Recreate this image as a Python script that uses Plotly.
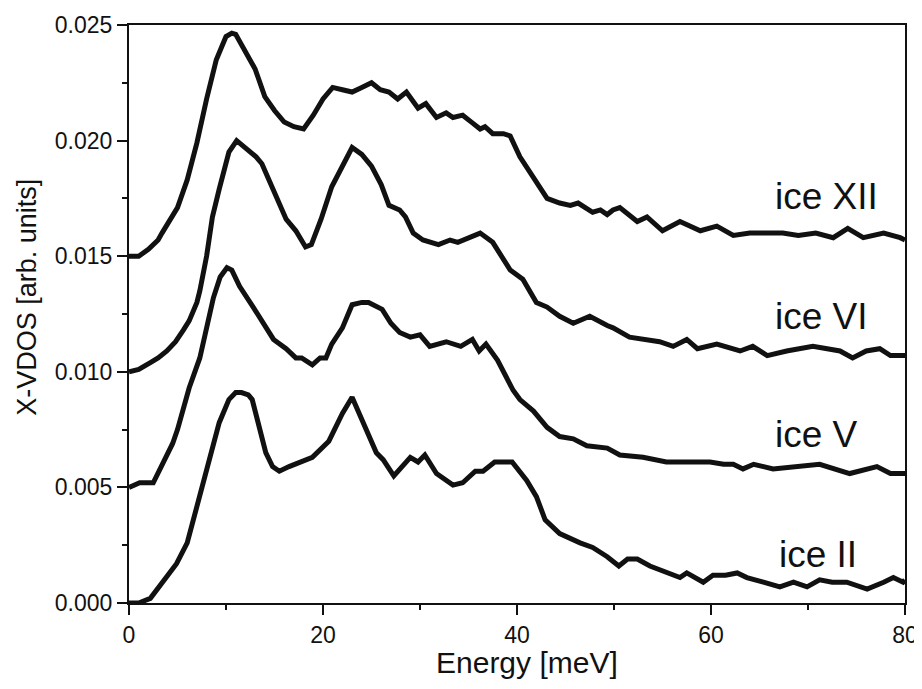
import plotly.graph_objects as go

# ---- data ----
energy_xii = [0, 1, 2, 3, 3.4, 4, 5, 6, 7, 8, 9, 10, 10.6, 11, 12, 13, 14, 15, 16, 17, 18, 19, 20,
              21, 22, 23, 24, 25, 25.9, 26.8, 27.7, 28.6, 29.8, 30.6, 31.7, 32.7, 33.4, 34.4, 35.3,
              36.2, 36.7, 37.5, 38.6, 39.3, 40.3, 41.7, 43.1, 44.4, 45.5, 46.3, 47.8, 48.6, 49.3,
              49.9, 50.6, 52.4, 53.4, 55.0, 56.8, 58.9, 60.6, 62.3, 64.0, 65.8, 67.4, 69.0, 70.8,
              72.6, 74.1, 75.7, 77.8, 79.5, 80]
vdos_xii = [0.0150, 0.0150, 0.0153, 0.0157, 0.0160, 0.0164, 0.0171, 0.0183, 0.0199, 0.0218, 0.0235,
            0.0245, 0.02465, 0.0246, 0.0239, 0.0231, 0.0219, 0.0213, 0.0208, 0.0206, 0.0205, 0.0211,
            0.0218, 0.0223, 0.0222, 0.0221, 0.0223, 0.0225, 0.0222, 0.0221, 0.0218, 0.0221, 0.0214,
            0.0216, 0.0210, 0.0212, 0.0210, 0.0211, 0.0208, 0.0205, 0.0206, 0.0203, 0.0203, 0.0202,
            0.0193, 0.0184, 0.0175, 0.0173, 0.0172, 0.0173, 0.0169, 0.0170, 0.0168, 0.0170, 0.0171,
            0.0165, 0.0167, 0.0161, 0.0165, 0.0161, 0.0163, 0.0159, 0.0160, 0.0160, 0.0160, 0.0159,
            0.0160, 0.0158, 0.0162, 0.0158, 0.0160, 0.0158, 0.0157]

energy_vi = [0, 1, 2.2, 3.0, 3.9, 4.8, 5.6, 6.2, 7.0, 7.3, 8.0, 8.6, 9.3, 10.3, 11.1, 12.0, 13.1, 13.7,
             15.2, 16.2, 17.2, 18.2, 18.8, 19.8, 20.9, 22.0, 23.0, 24.0, 25.0, 26.0, 26.8, 27.9, 28.5,
             29.3, 30.3, 31.9, 33.1, 33.9, 35.0, 36.2, 37.5, 39.3, 40.6, 42.0, 43.1, 44.4, 45.8, 47.5,
             49.3, 49.9, 51.6, 53.0, 54.7, 56.1, 57.5, 58.6, 60.6, 63.0, 64.3, 65.8, 67.8, 70.5, 73.3,
             74.6, 76.0, 77.4, 78.5, 80]
vdos_vi = [0.0100, 0.0101, 0.0104, 0.0106, 0.0109, 0.0113, 0.0118, 0.0122, 0.0130, 0.0135, 0.0150,
           0.0167, 0.0179, 0.0195, 0.0200, 0.0197, 0.0193, 0.0190, 0.0176, 0.0166, 0.0161, 0.0154,
           0.0155, 0.0166, 0.0180, 0.0189, 0.0197, 0.0194, 0.0189, 0.0181, 0.0172, 0.0170, 0.0167,
           0.0160, 0.0157, 0.0155, 0.0157, 0.0156, 0.0158, 0.0160, 0.0156, 0.0144, 0.0140, 0.0130,
           0.0128, 0.0124, 0.0121, 0.0124, 0.0120, 0.0119, 0.0115, 0.0114, 0.0113, 0.0111, 0.0114,
           0.0110, 0.0112, 0.0109, 0.0111, 0.0107, 0.0109, 0.0111, 0.0109, 0.0106, 0.0109, 0.0110,
           0.0107, 0.0107]

energy_v = [0, 1.1, 2.5, 3.2, 4.0, 4.5, 5.0, 5.6, 6.2, 7.3, 8.0, 8.7, 9.4, 10.1, 10.6, 11.4, 12.8,
            14.2, 14.9, 16.2, 17.2, 17.8, 18.9, 19.7, 20.3, 20.9, 22.0, 23.0, 24.0, 24.7, 26.1, 27.0,
            27.9, 29.0, 30.0, 31.0, 32.7, 34.2, 35.4, 36.1, 36.8, 38.0, 39.6, 40.3, 41.7, 43.1, 44.4,
            45.8, 47.2, 49.3, 50.6, 53.0, 55.4, 57.5, 59.9, 61.3, 62.3, 63.3, 64.4, 66.4, 68.5, 71.2,
            74.3, 77.1, 78.5, 80]
vdos_v = [0.0050, 0.0052, 0.0052, 0.0058, 0.0064, 0.0069, 0.0075, 0.0084, 0.0093, 0.0106, 0.0119,
          0.0132, 0.0141, 0.0145, 0.0144, 0.0137, 0.0128, 0.0119, 0.0114, 0.0110, 0.0106, 0.0106,
          0.0103, 0.0106, 0.0106, 0.0112, 0.0119, 0.0129, 0.0130, 0.0130, 0.0127, 0.0121, 0.0117,
          0.0115, 0.0116, 0.0111, 0.0113, 0.0111, 0.0114, 0.0109, 0.0112, 0.0105, 0.0092, 0.0088,
          0.0083, 0.0076, 0.0072, 0.0071, 0.0068, 0.0067, 0.0064, 0.0063, 0.0061, 0.0061, 0.0061,
          0.0060, 0.0060, 0.0058, 0.0060, 0.0058, 0.0059, 0.0060, 0.0056, 0.0059, 0.0056, 0.0056]

energy_ii = [0, 1.0, 2.2, 3.5, 4.9, 6.0, 6.9, 7.3, 8.3, 9.3, 10.3, 11.0, 11.6, 12.3, 12.7, 13.4, 14.1,
             14.8, 15.5, 16.5, 17.8, 18.9, 20.6, 22.0, 23.0, 24.0, 25.5, 26.2, 27.3, 29.0, 29.8, 30.5,
             31.7, 33.4, 34.4, 35.7, 36.5, 37.7, 39.5, 41.0, 42.0, 42.9, 44.4, 46.5, 47.8, 49.3, 50.5,
             51.4, 52.4, 53.7, 55.5, 56.8, 57.5, 59.2, 60.2, 61.5, 62.7, 63.7, 65.4, 67.1, 68.5, 69.9,
             71.2, 72.5, 74.0, 76.1, 77.8, 78.8, 79.8, 80]
vdos_ii = [0.0000, 0.0000, 0.0002, 0.0009, 0.0017, 0.0026, 0.0040, 0.0045, 0.0062, 0.0078, 0.0088,
           0.0091, 0.0091, 0.0090, 0.0088, 0.0076, 0.0065, 0.0059, 0.0057, 0.0059, 0.0061, 0.0063,
           0.0070, 0.0082, 0.0089, 0.0079, 0.0065, 0.0062, 0.0055, 0.0063, 0.0061, 0.0064, 0.0056,
           0.0051, 0.0052, 0.0057, 0.0057, 0.0061, 0.0061, 0.0053, 0.0046, 0.0036, 0.0030, 0.0026,
           0.0024, 0.0020, 0.0016, 0.0019, 0.0019, 0.0016, 0.0013, 0.0011, 0.0013, 0.0009, 0.0012,
           0.0012, 0.0013, 0.0011, 0.0009, 0.0007, 0.0009, 0.0007, 0.0010, 0.0009, 0.0009, 0.0006,
           0.0009, 0.0011, 0.0009, 0.0010]

series_names = ["ice XII", "ice VI", "ice V", "ice II"]
label_x = [66.4, 66.4, 66.4, 66.8]
label_y = [0.0176, 0.0124, 0.0073, 0.0021]

x_title = "Energy [meV]"
y_title = "X-VDOS [arb. units]"

FONT = "Liberation Sans, Arial, sans-serif"

fig = go.Figure()
for xs, ys, name in [(energy_xii, vdos_xii, series_names[0]),
                     (energy_vi, vdos_vi, series_names[1]),
                     (energy_v, vdos_v, series_names[2]),
                     (energy_ii, vdos_ii, series_names[3])]:
    fig.add_trace(go.Scatter(x=xs, y=ys, mode="lines", name=name,
                             line=dict(color="#111111", width=5)))

for name, lx, ly in zip(series_names, label_x, label_y):
    fig.add_annotation(x=lx, y=ly, text=name, showarrow=False, xanchor="left", yanchor="middle",
                       font=dict(family=FONT, size=37, color="#111111"))

# axis titles placed as annotations to match reference positions
fig.add_annotation(xref="paper", yref="paper", x=0.513, y=-0.103, text=x_title, showarrow=False,
                   xanchor="center", yanchor="middle",
                   font=dict(family=FONT, size=30, color="#111111"))
fig.add_annotation(xref="paper", yref="paper", x=-0.1314, y=0.528, text=y_title, showarrow=False,
                   xanchor="center", yanchor="middle", textangle=-90,
                   font=dict(family=FONT, size=27, color="#111111"))

axis_common = dict(showline=True, linecolor="#111111", linewidth=2, mirror=True,
                   ticks="outside", ticklen=10, tickwidth=2, tickcolor="#111111",
                   showgrid=False, zeroline=False, automargin=False,
                   tickfont=dict(family=FONT, size=23, color="#111111"))

fig.update_xaxes(range=[0, 80], dtick=20, tick0=0,
                 minor=dict(dtick=10, ticks="outside", ticklen=5, tickwidth=2, tickcolor="#111111"),
                 **axis_common)
fig.update_yaxes(range=[0, 0.025], dtick=0.005, tick0=0, tickformat=".3f",
                 minor=dict(dtick=0.0025, ticks="outside", ticklen=5, tickwidth=2, tickcolor="#111111"),
                 **axis_common)

# the page adds an 8px body margin, so the figure is 8px smaller and shifted
fig.update_layout(width=914, height=681, showlegend=False,
                  paper_bgcolor="white", plot_bgcolor="white",
                  margin=dict(l=121, r=17, t=17, b=86))

fig.write_html("out.html")
